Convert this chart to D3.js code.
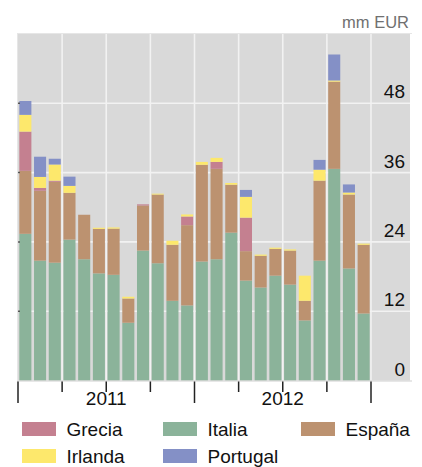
<!DOCTYPE html>
<html><head><meta charset="utf-8">
<script src="https://cdn.jsdelivr.net/npm/d3@7"></script>
<style>html,body{margin:0;padding:0;background:#fff;}svg{display:block;font-family:"Liberation Sans",Arial,sans-serif;}</style>
</head><body>
<script>
const months = d3.range(24).map(i => `${2011 + Math.floor(i/12)}-${String(i%12+1).padStart(2,"0")}`);
const years = ["2011","2012"];
const yTicks = [0,12,24,36,48];
const seriesNames = ["Italia","España","Grecia","Irlanda","Portugal"];
const italia   = [25.4,20.75,20.4,24.4,21.0,18.55,18.3,10.0,22.5,20.3,13.8,13.0,20.6,21.0,25.6,17.3,16.1,18.15,16.6,10.4,20.75,36.65,19.4,11.6];
const espana   = [10.9,12.1,14.0,8.1,7.7,7.7,8.0,4.2,7.8,11.9,9.7,13.9,16.75,15.65,8.3,5.1,5.5,4.65,5.9,3.4,13.85,15.1,12.8,11.9];
const grecia   = [6.8,0.5,0.2,0,0,0,0,0,0.2,0,0,1.5,0,1.2,0,5.8,0,0,0,0,0,0,0,0];
const irlanda  = [2.9,1.9,2.8,1.2,0,0.2,0.2,0.3,0,0.15,0.7,0.35,0.5,0.7,0.3,3.6,0.2,0.2,0.2,4.35,1.9,0.2,0.35,0.2];
const portugal = [2.4,3.5,1.0,1.6,0,0,0,0,0,0,0,0,0,0,0,1.2,0,0,0,0,1.7,4.5,1.4,0];
const legendOrder = ["Grecia","Italia","España","Irlanda","Portugal"];
const colors = {Grecia:"#c48090", Italia:"#8bb39a", "España":"#bc9270", Irlanda:"#fde86c", Portugal:"#8490c6"};

(function(){
const seriesData = {Italia:italia, "España":espana, Grecia:grecia, Irlanda:irlanda, Portugal:portugal};
const table = months.map((m,i) => { const o = {month:m}; seriesNames.forEach(s => o[s] = seriesData[s][i]); return o; });

const W = 422, H = 467;
const pLeft = 18, plotRight = 410, barsRight = 371, pTop = 34, pBottom = 380.5;
const svg = d3.select("body").append("svg").attr("width", W).attr("height", H);

const x = d3.scaleBand().domain(months).range([pLeft, barsRight]).paddingInner(0.18).paddingOuter(0.09);
const y = d3.scaleLinear().domain([0, 60]).range([pBottom, pTop]);
const step = x.step();
const boundary = k => pLeft + k * 3 * step;

svg.append("rect").attr("x", pLeft).attr("y", pTop).attr("width", plotRight - pLeft).attr("height", pBottom - pTop).attr("fill", "#d9d9d9");
svg.append("line").attr("x1", pLeft - 1).attr("x2", plotRight + 2).attr("y1", pTop - 0.5).attr("y2", pTop - 0.5).attr("stroke", "#e6e6e6").attr("stroke-width", 1);
svg.append("line").attr("x1", pLeft - 0.5).attr("x2", pLeft - 0.5).attr("y1", pTop).attr("y2", pBottom).attr("stroke", "#e6e6e6").attr("stroke-width", 1);

svg.append("g").selectAll("line").data(yTicks.filter(d => d > 0)).join("line")
  .attr("x1", pLeft).attr("x2", plotRight).attr("y1", d => y(d)).attr("y2", d => y(d))
  .attr("stroke", "#f2f2f2").attr("stroke-width", 1.6);
svg.append("g").selectAll("line").data(d3.range(1, 9)).join("line")
  .attr("x1", d => boundary(d)).attr("x2", d => boundary(d)).attr("y1", pTop).attr("y2", pBottom)
  .attr("stroke", "#f2f2f2").attr("stroke-width", 1.6);

const stacked = d3.stack().keys(seriesNames)(table);
svg.append("g").selectAll("g").data(stacked).join("g").attr("fill", d => colors[d.key])
  .selectAll("rect").data(d => d).join("rect")
  .attr("x", d => x(d.data.month)).attr("width", x.bandwidth())
  .attr("y", d => y(d[1])).attr("height", d => Math.max(0, y(d[0]) - y(d[1])));

svg.append("line").attr("x1", pLeft - 1).attr("x2", plotRight + 2).attr("y1", pBottom + 0.5).attr("y2", pBottom + 0.5).attr("stroke", "#cfcfcf").attr("stroke-width", 1.2);

svg.append("g").selectAll("line").data(yTicks.filter(d => d > 0)).join("line")
  .attr("x1", pLeft).attr("x2", pLeft + 2).attr("y1", d => y(d)).attr("y2", d => y(d))
  .attr("stroke", "#555").attr("stroke-width", 1.5);

svg.append("g").selectAll("text").data(yTicks).join("text")
  .attr("x", 405).attr("y", d => y(d) - 5).attr("text-anchor", "end")
  .attr("font-size", 19).attr("fill", "#111").text(d => d);

svg.append("g").selectAll("line").data(d3.range(0, 9)).join("line")
  .attr("x1", d => boundary(d)).attr("x2", d => boundary(d))
  .attr("y1", pBottom + 1).attr("y2", d => d % 4 === 0 ? 403 : 392)
  .attr("stroke", "#222").attr("stroke-width", 1.5);

svg.append("g").selectAll("text").data(years).join("text")
  .attr("x", (d, i) => (boundary(i * 4) + boundary(i * 4 + 4)) / 2)
  .attr("y", 405).attr("text-anchor", "middle").attr("font-size", 19).attr("fill", "#111").text(d => d);

svg.append("text").attr("x", 409).attr("y", 28).attr("text-anchor", "end")
  .attr("font-size", 16.5).attr("fill", "#707070").text("mm EUR");

const colX = [22, 163, 301], rowY = [422, 449];
const lg = svg.append("g").selectAll("g").data(legendOrder).join("g")
  .attr("transform", (d, i) => `translate(${colX[i % 3]},${rowY[Math.floor(i / 3)]})`);
lg.append("rect").attr("width", 34).attr("height", 14).attr("fill", d => colors[d]);
lg.append("text").attr("x", 44.5).attr("y", 13.7).attr("font-size", 19).attr("fill", "#111").text(d => d);
})();
</script>
</body></html>
